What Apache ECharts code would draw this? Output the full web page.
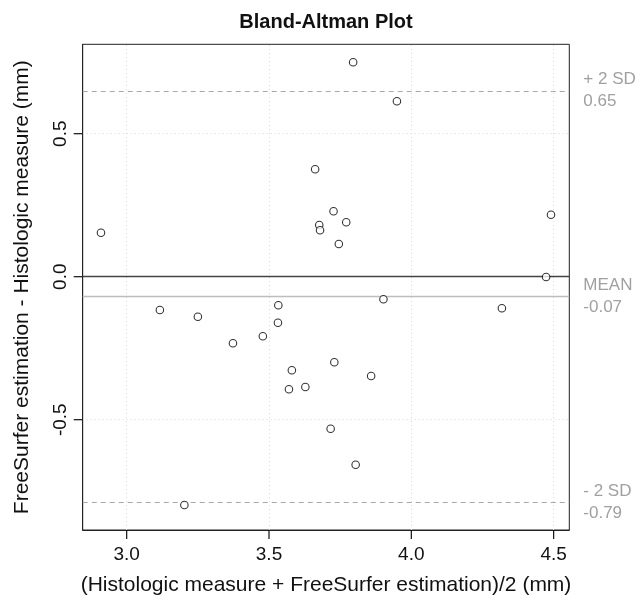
<!DOCTYPE html>
<html>
<head>
<meta charset="utf-8">
<script src="https://cdn.jsdelivr.net/npm/echarts@6/dist/echarts.min.js"></script>
<style>
html,body{margin:0;padding:0;background:#fff;}
#chart{width:641px;height:595px;}
</style>
</head>
<body>
<div id="chart"></div>
<script>
// Data: mean of the two measures (x) and difference (y)
const meanValues = [3.7956, 3.9494, 3.6621, 3.7267, 3.6765, 3.6793, 3.7713, 3.7453, 2.9097, 4.4907,
  4.4735, 3.9020, 3.1166, 3.2501, 3.5328, 3.5314, 3.4784, 3.3734, 4.3182, 3.7295,
  3.5803, 3.8588, 3.6277, 3.5701, 3.7165, 3.8044, 3.2027];
const diffValues = [0.7497, 0.6133, 0.3755, 0.2287, 0.1808, 0.1622, 0.1902, 0.1143, 0.1538, 0.2168,
  -0.0010, -0.0787, -0.1164, -0.1399, -0.1000, -0.1608, -0.2084, -0.2329, -0.1105, -0.2993,
  -0.3273, -0.3472, -0.3857, -0.3937, -0.5315, -0.6573, -0.7983];
const xTicks = [3.0, 3.5, 4.0, 4.5];
const yTicks = [-0.5, 0.0, 0.5];
const refNames = ['+ 2 SD', 'MEAN', '- 2 SD'];
const refValues = [0.647, -0.0705, -0.789];
const refLabels = ['0.65', '-0.07', '-0.79'];

const X_MIN = 2.8455, X_MAX = 4.555, Y_MIN = -0.8857, Y_MAX = 0.8126;
const FONT = '"Liberation Sans", Arial, Helvetica, sans-serif';
const chart = echarts.init(document.getElementById('chart'), null, {renderer: 'canvas'});

const pts = meanValues.map((x, i) => [x, diffValues[i]]);

const refLines = refValues.map((v, i) => ({
  yAxis: v,
  lineStyle: i === 1
    ? {color: '#bdbdbd', type: 'solid', width: 1.3}
    : {color: '#a9a9a9', type: [5, 4], width: 1.2},
  label: {
    show: true, position: 'end', distance: 14,
    formatter: refNames[i] + '\n' + refLabels[i],
    color: '#a0a0a0', fontSize: 17, fontFamily: FONT, lineHeight: 22, align: 'left'
  }
}));

const TICK_LEN = 9;
function tickSeries(isX) {
  return {
    type: 'custom', silent: true, clip: false, z: 5,
    data: (isX ? xTicks : yTicks).map(v => isX ? [v, Y_MIN] : [X_MIN, v]),
    renderItem: function (params, api) {
      const p = api.coord([api.value(0), api.value(1)]);
      const x = p[0], y = p[1];
      return {
        type: 'line',
        shape: isX ? {x1: x, y1: y, x2: x, y2: y + TICK_LEN} : {x1: x - TICK_LEN, y1: y, x2: x, y2: y},
        style: {stroke: '#111', lineWidth: 1.2}
      };
    }
  };
}

const option = {
  animation: false,
  backgroundColor: '#ffffff',
  title: {
    text: 'Bland-Altman Plot',
    left: 326, top: 12, textAlign: 'center', padding: 0,
    textStyle: {fontSize: 20, fontWeight: 'bold', fontFamily: FONT, color: '#111'}
  },
  grid: {
    left: 82.7, right: 71.7, top: 44.3, bottom: 65,
    outerBoundsMode: 'none', containLabel: false,
    show: true, borderColor: '#222', borderWidth: 1, backgroundColor: 'transparent'
  },
  xAxis: {
    type: 'value', min: X_MIN, max: X_MAX,
    axisLine: {show: true, onZero: false, lineStyle: {color: '#222', width: 1}},
    splitLine: {show: false},
    axisTick: {show: false},
    axisLabel: {
      customValues: xTicks, margin: 15, fontSize: 19, fontFamily: FONT, color: '#111',
      formatter: v => v.toFixed(1)
    },
    name: '(Histologic measure + FreeSurfer estimation)/2 (mm)',
    nameLocation: 'middle', nameGap: 45,
    nameTextStyle: {fontSize: 21, fontFamily: FONT, color: '#111'}
  },
  yAxis: {
    type: 'value', min: Y_MIN, max: Y_MAX,
    axisLine: {show: true, onZero: false, lineStyle: {color: '#222', width: 1}},
    splitLine: {show: false},
    axisTick: {show: false},
    axisLabel: {
      customValues: yTicks, margin: 12, rotate: 90, fontSize: 19, fontFamily: FONT, color: '#111',
      formatter: v => v.toFixed(1)
    },
    name: 'FreeSurfer estimation - Histologic measure (mm)',
    nameLocation: 'middle', nameGap: 50,
    nameTextStyle: {fontSize: 21, fontFamily: FONT, color: '#111'}
  },
  series: [
    {
      // grid lines (dotted) at tick positions
      type: 'line', data: [], silent: true,
      markLine: {
        symbol: 'none', silent: true, animation: false,
        label: {show: false},
        lineStyle: {color: '#d9d9d9', type: [1, 3], width: 1},
        data: xTicks.map(v => ({xAxis: v})).concat(yTicks.map(v => ({yAxis: v})))
      }
    },
    {
      // zero line
      type: 'line', data: [], silent: true,
      markLine: {
        symbol: 'none', silent: true, animation: false,
        label: {show: false},
        lineStyle: {color: '#444', type: 'solid', width: 1.3},
        data: [{yAxis: 0}]
      }
    },
    {
      type: 'line', data: [], silent: true,
      markLine: {
        symbol: 'none', silent: true, animation: false,
        data: refLines
      }
    },
    tickSeries(true),
    tickSeries(false),
    {
      type: 'scatter', data: pts,
      symbol: 'circle', symbolSize: 7.5,
      itemStyle: {color: '#ffffff', borderColor: '#000', borderWidth: 1.1},
      z: 10
    }
  ]
};
chart.setOption(option);
</script>
</body>
</html>
